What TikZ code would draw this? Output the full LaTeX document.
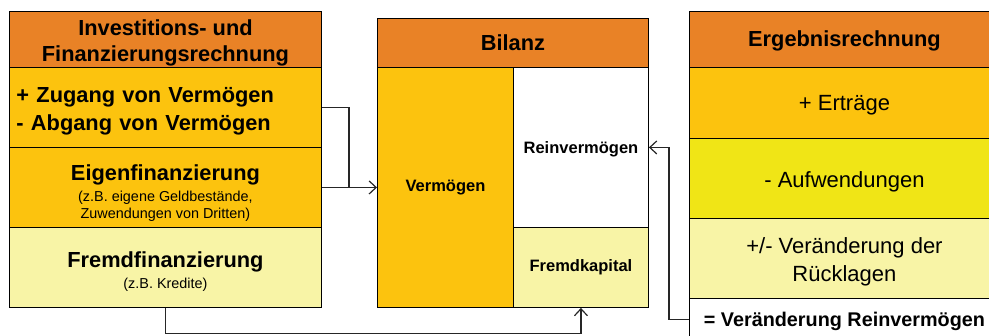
\documentclass[tikz,border=0pt]{standalone}
\usepackage{fontspec}
\setmainfont{Liberation Sans}
\usepackage{xcolor}
\usetikzlibrary{arrows.meta}

\definecolor{hdorange}{RGB}{233,130,38}
\definecolor{gold}{RGB}{252,195,14}
\definecolor{lemon}{RGB}{240,229,22}
\definecolor{pale}{RGB}{248,244,166}

\newcommand{\hdfont}{\bfseries\fontsize{21.8}{26.5}\selectfont}
\newcommand{\rowfont}{\fontsize{22}{28}\selectfont}
\newcommand{\subfont}{\mdseries\fontsize{14.4}{17}\selectfont}
\newcommand{\balfont}{\bfseries\fontsize{16.5}{19}\selectfont}
\newcommand{\lift}[1]{\rule{0pt}{#1}}

\tikzset{
	cell/.style={draw=black, line width=0.9pt, inner sep=0pt, anchor=north west, align=center},
	link/.style={draw=black!85, line width=1.2pt},
	tip/.style={-{Straight Barb[length=7pt,width=13pt]}}
}

\begin{document}
\begin{tikzpicture}[x=1pt,y=-1pt]
	\useasboundingbox (0,0) rectangle (989,336);
	\clip (0,0) rectangle (989,336);
	% Investitions- und Finanzierungsrechnung
	\node[cell, fill=hdorange, minimum width=312pt, minimum height=56pt, font=\hdfont] (ifr) at (9,11) {\lift{23pt}Investitions- und\\Finanzierungsrechnung};
	\node[cell, fill=gold, minimum width=312pt, minimum height=80pt, font=\hdfont, text width=298pt, align=left, inner xsep=7pt] (zugang) at (9,67) {\lift{23pt}+ Zugang von Vermögen\\[1pt]- Abgang von Vermögen};
	\node[cell, fill=gold, minimum width=312pt, minimum height=80pt, font=\hdfont] (eigen) at (9,147) {\lift{28pt}Eigenfinanzierung\\[-6pt]\subfont (z.B. eigene Geldbestände,\\[-9pt]\subfont Zuwendungen von Dritten)};
	\node[cell, fill=pale, minimum width=312pt, minimum height=80pt, font=\hdfont] (fremd) at (9,227) {\lift{24pt}Fremdfinanzierung\\[-5pt]\subfont (z.B. Kredite)};
	% Bilanz
	\node[cell, fill=hdorange, minimum width=271pt, minimum height=49pt, font=\hdfont] (bil) at (377,18) {Bilanz};
	\node[cell, fill=gold, minimum width=136pt, minimum height=240pt, font=\balfont] (verm) at (377,67) {Vermögen};
	\node[cell, fill=white, minimum width=135pt, minimum height=160pt, font=\balfont] (rein) at (513,67) {\lift{15pt}Reinvermögen};
	\node[cell, fill=pale, minimum width=135pt, minimum height=80pt, font=\balfont] (fk) at (513,227) {Fremdkapital};
	% Ergebnisrechnung
	\node[cell, fill=hdorange, minimum width=310pt, minimum height=56pt, font=\hdfont] (erg) at (689,11) {\lift{19pt}Ergebnisrechnung};
	\node[cell, fill=gold, minimum width=310pt, minimum height=71pt, font=\rowfont] (ertr) at (689,67) {\lift{20pt}+ Erträge};
	\node[cell, fill=lemon, minimum width=310pt, minimum height=80pt, font=\rowfont] (aufw) at (689,138) {\lift{22pt}- Aufwendungen};
	\node[cell, fill=pale, minimum width=310pt, minimum height=80pt, font=\rowfont] (rueck) at (689,218) {\lift{22pt}+/- Veränderung der\\Rücklagen};
	\node[cell, fill=white, minimum width=310pt, minimum height=42pt, font=\bfseries\fontsize{19.8}{23}\selectfont] (erv) at (689,298) {\lift{18pt}= Veränderung Reinvermögen};
	% Verbindungen
	\coordinate (knick) at (349,187);
	\draw[link] (zugang.east) -| (knick);
	\draw[link, tip] (eigen.east) -- (verm.west);
	\draw[link, tip] (fremd.south) -- ++(0,26) -| (fk.south);
	\draw[link, tip] (erv.west) -- ++(-20,0) |- (rein.east);
\end{tikzpicture}
\end{document}
